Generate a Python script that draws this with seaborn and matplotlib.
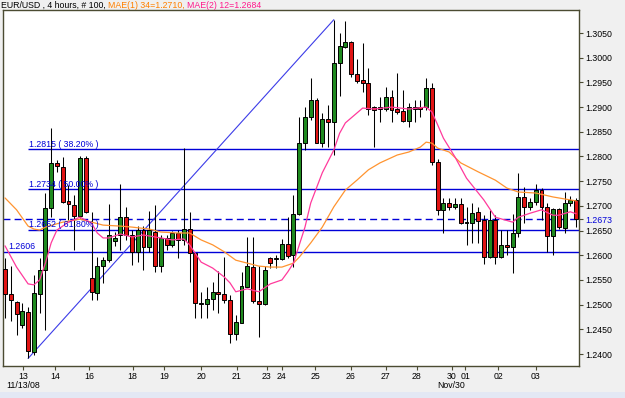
import numpy as np
import pandas as pd
import matplotlib
matplotlib.use("Agg")
import matplotlib.pyplot as plt
import matplotlib.transforms as mtransforms
from matplotlib.patches import Rectangle
import seaborn as sns

# ---------------- data (EUR/USD, 4 hours, 100 candles) ----------------
opens = [1.2572, 1.2521, 1.2505, 1.2459, 1.2485, 1.2404, 1.2521, 1.2570, 1.2696, 1.2787,
         1.2779, 1.2710, 1.2702, 1.2679, 1.2797, 1.2554, 1.2524, 1.2578, 1.2590, 1.2629,
         1.2641, 1.2677, 1.2641, 1.2607, 1.2651, 1.2617, 1.2647, 1.2578, 1.2635, 1.2621,
         1.2645, 1.2631, 1.2653, 1.2604, 1.2501, 1.2501, 1.2511, 1.2526, 1.2521, 1.2509,
         1.2440, 1.2463, 1.2536, 1.2576, 1.2507, 1.2501, 1.2594, 1.2592, 1.2592, 1.2623,
         1.2600, 1.2683, 1.2827, 1.2880, 1.2914, 1.2827, 1.2876, 1.2870, 1.2989, 1.3022,
         1.3032, 1.2967, 1.2955, 1.2949, 1.2900, 1.2900, 1.2896, 1.2920, 1.2896, 1.2892,
         1.2872, 1.2900, 1.2900, 1.2900, 1.2939, 1.2789, 1.2692, 1.2706, 1.2698, 1.2704,
         1.2665, 1.2665, 1.2688, 1.2671, 1.2596, 1.2671, 1.2596, 1.2621, 1.2617, 1.2645,
         1.2718, 1.2698, 1.2708, 1.2732, 1.2698, 1.2639, 1.2694, 1.2655, 1.2706, 1.2712]
highs = [1.2594, 1.2578, 1.2507, 1.2503, 1.2495, 1.2560, 1.2594, 1.2726, 1.2858, 1.2793,
         1.2799, 1.2742, 1.2722, 1.2801, 1.2801, 1.2688, 1.2596, 1.2596, 1.2704, 1.2647,
         1.2744, 1.2698, 1.2651, 1.2659, 1.2659, 1.2690, 1.2702, 1.2641, 1.2641, 1.2649,
         1.2651, 1.2817, 1.2688, 1.2604, 1.2526, 1.2536, 1.2546, 1.2568, 1.2596, 1.2519,
         1.2479, 1.2566, 1.2637, 1.2637, 1.2578, 1.2578, 1.2596, 1.2600, 1.2633, 1.2677,
         1.2722, 1.2880, 1.2900, 1.2959, 1.2918, 1.2888, 1.2904, 1.3077, 1.3050, 1.3074,
         1.3034, 1.2997, 1.3030, 1.2979, 1.2902, 1.2920, 1.2941, 1.2935, 1.2969, 1.2935,
         1.2908, 1.2914, 1.2914, 1.2959, 1.2949, 1.2795, 1.2716, 1.2716, 1.2716, 1.2716,
         1.2698, 1.2706, 1.2698, 1.2681, 1.2692, 1.2681, 1.2651, 1.2651, 1.2683, 1.2767,
         1.2738, 1.2716, 1.2744, 1.2736, 1.2706, 1.2696, 1.2696, 1.2728, 1.2720, 1.2716]
lows = [1.2473, 1.2467, 1.2438, 1.2453, 1.2391, 1.2398, 1.2483, 1.2449, 1.2677, 1.2769,
        1.2706, 1.2671, 1.2611, 1.2675, 1.2685, 1.2509, 1.2509, 1.2544, 1.2586, 1.2619,
        1.2611, 1.2631, 1.2580, 1.2586, 1.2570, 1.2607, 1.2566, 1.2566, 1.2611, 1.2617,
        1.2594, 1.2621, 1.2546, 1.2473, 1.2473, 1.2473, 1.2489, 1.2483, 1.2503, 1.2422,
        1.2428, 1.2463, 1.2536, 1.2503, 1.2434, 1.2499, 1.2574, 1.2574, 1.2590, 1.2594,
        1.2576, 1.2681, 1.2813, 1.2874, 1.2827, 1.2819, 1.2819, 1.2803, 1.2922, 1.3020,
        1.2961, 1.2949, 1.2930, 1.2884, 1.2819, 1.2870, 1.2892, 1.2870, 1.2886, 1.2870,
        1.2860, 1.2870, 1.2880, 1.2894, 1.2783, 1.2681, 1.2645, 1.2692, 1.2694, 1.2663,
        1.2621, 1.2625, 1.2625, 1.2582, 1.2594, 1.2582, 1.2594, 1.2600, 1.2564, 1.2637,
        1.2665, 1.2692, 1.2702, 1.2671, 1.2607, 1.2600, 1.2653, 1.2645, 1.2700, 1.2657]
closes = [1.2521, 1.2509, 1.2480, 1.2487, 1.2406, 1.2524, 1.2570, 1.2696, 1.2787, 1.2781,
          1.2708, 1.2704, 1.2679, 1.2797, 1.2688, 1.2526, 1.2578, 1.2590, 1.2641, 1.2635,
          1.2677, 1.2641, 1.2607, 1.2651, 1.2617, 1.2651, 1.2578, 1.2635, 1.2621, 1.2645,
          1.2631, 1.2653, 1.2604, 1.2503, 1.2503, 1.2511, 1.2526, 1.2521, 1.2509, 1.2440,
          1.2465, 1.2538, 1.2578, 1.2507, 1.2501, 1.2570, 1.2584, 1.2594, 1.2623, 1.2598,
          1.2683, 1.2827, 1.2880, 1.2914, 1.2827, 1.2876, 1.2870, 1.2989, 1.3024, 1.3032,
          1.2967, 1.2953, 1.2949, 1.2896, 1.2894, 1.2896, 1.2920, 1.2894, 1.2890, 1.2872,
          1.2900, 1.2896, 1.2896, 1.2939, 1.2789, 1.2692, 1.2706, 1.2698, 1.2704, 1.2665,
          1.2667, 1.2685, 1.2669, 1.2596, 1.2671, 1.2596, 1.2621, 1.2617, 1.2645, 1.2718,
          1.2698, 1.2708, 1.2732, 1.2698, 1.2639, 1.2694, 1.2657, 1.2706, 1.2712, 1.2673]

# moving averages (candle index, value)
ma12_idx = [0, 2, 4, 5, 6, 7, 8, 9, 11, 13, 15, 16, 17, 18, 20, 22, 24, 26, 29, 31,
            32, 34, 36, 38, 39, 40, 42, 44, 46, 48, 49, 50, 52, 53, 55, 57, 58, 59, 61, 62,
            64, 67, 70, 73, 74, 75, 76, 78, 80, 83, 85, 88, 89, 91, 93, 95, 96, 98, 99]
ma12_val = [1.2619, 1.2576, 1.2542, 1.2540, 1.2550, 1.2584, 1.2625, 1.2651, 1.2667, 1.2677,
            1.2665, 1.2645, 1.2635, 1.2635, 1.2643, 1.2637, 1.2641, 1.2637, 1.2631, 1.2633,
            1.2621, 1.2586, 1.2574, 1.2556, 1.2544, 1.2526, 1.2532, 1.2526, 1.2542, 1.2550,
            1.2566, 1.2584, 1.2657, 1.2706, 1.2767, 1.2813, 1.2847, 1.2868, 1.2888, 1.2898,
            1.2896, 1.2900, 1.2896, 1.2900, 1.2890, 1.2864, 1.2837, 1.2799, 1.2756, 1.2712,
            1.2677, 1.2667, 1.2677, 1.2685, 1.2692, 1.2681, 1.2681, 1.2688, 1.2684]
ma34_idx = [0, 2, 4, 5, 6, 7, 10, 13, 15, 17, 20, 22, 25, 27, 30, 32, 34, 36, 38, 40,
            42, 44, 46, 48, 50, 51, 53, 55, 57, 59, 61, 63, 65, 68, 70, 72, 73, 74, 75, 77,
            79, 82, 85, 87, 89, 92, 95, 97, 99]
ma34_val = [1.2716, 1.2692, 1.2659, 1.2653, 1.2651, 1.2657, 1.2667, 1.2673, 1.2667, 1.2661,
            1.2659, 1.2657, 1.2653, 1.2647, 1.2645, 1.2645, 1.2631, 1.2621, 1.2607, 1.2590,
            1.2584, 1.2578, 1.2576, 1.2576, 1.2584, 1.2596, 1.2625, 1.2657, 1.2698, 1.2732,
            1.2752, 1.2773, 1.2787, 1.2803, 1.2809, 1.2819, 1.2829, 1.2827, 1.2817, 1.2809,
            1.2787, 1.2769, 1.2752, 1.2736, 1.2728, 1.2726, 1.2718, 1.2714, 1.2710]

fib_levels = [1.2815, 1.2734, 1.2652]
fib_labels = ["1.2815 ( 38.20% )", "1.2734 ( 50.00% )", "1.2652 ( 61.80% )"]
support_level = 1.2606
support_label = "1.2606"
last_price = 1.2673
swing_idx = [4, 57]
swing_price = [1.2391, 1.3077]

xtick_labels = ["13", "14", "16", "18", "19", "20", "21", "23", "24", "25", "26", "27",
                "28", "30", "01", "02", "03"]
xtick_pos = [3.2, 8.7, 14.6, 22.1, 27.6, 34.0, 40.2, 45.4, 48.0, 53.8, 59.9, 66.0,
             71.4, 77.4, 79.8, 85.5, 92.0]
date_labels = ["11/13/08", "Nov/30"]
date_pos = [3.2, 77.4]
ytick_vals = [1.2400, 1.2450, 1.2500, 1.2550, 1.2600, 1.2650, 1.2700, 1.2750, 1.2800,
              1.2850, 1.2900, 1.2950, 1.3000, 1.3050]

title_parts = ["EUR/USD , 4 hours, # 100, ", "MAE(1) 34=1.2710, ", "MAE(2) 12=1.2684"]

# ---------------- style ----------------
sns.set_style("white")
plt.rcParams["font.family"] = ["Liberation Sans", "DejaVu Sans"]
FS = 6.3
GREEN = "#1f8a1f"
RED = "#e01414"
BLUE = "#0000d8"
ORANGE = "#ff9430"
PINK = "#ff3a9c"
SPINE = "#4b4b32"

W, H = 625, 398
fig = plt.figure(figsize=(W / 100, H / 100), dpi=100, facecolor="#f0f0f0")
fig.patches.append(Rectangle((0, 0), 1, 6 / H, transform=fig.transFigure,
                             facecolor="#e3e8f4", edgecolor="none", zorder=0))
ax = fig.add_axes([3 / W, 1 - 366 / H, (579 - 3) / W, (366 - 10) / H])
ax.set_facecolor("white")

df = pd.DataFrame({"idx": np.arange(len(opens)), "open": opens, "high": highs,
                   "low": lows, "close": closes})
df["up"] = df["close"] >= df["open"]

XMIN, XMAX = -0.35, 99.5
ax.set_xlim(XMIN, XMAX)
ax.set_ylim(1.23757, 1.30966)

# horizontal levels and trend line
ax.hlines(support_level, XMIN, XMAX, color=BLUE, lw=1.0, zorder=2)
ax.hlines(fib_levels, swing_idx[0], XMAX, color=BLUE, lw=1.0, zorder=2)
ax.axhline(last_price, color=BLUE, lw=1.0, ls=(0, (5, 3)), zorder=2)
ax.plot(swing_idx, swing_price, color="#3c3ce8", lw=0.8, zorder=2)

# candles
ax.vlines(df["idx"], df["low"], df["high"], color="black", lw=0.75, zorder=3)
body_bottom = np.minimum(df["open"], df["close"])
body_h = np.maximum((df["close"] - df["open"]).abs(), 0.00012)
ax.bar(df["idx"], body_h, bottom=body_bottom, width=0.68,
       color=[GREEN if u else RED for u in df["up"]],
       edgecolor="black", linewidth=0.7, zorder=4)

# moving averages
sns.lineplot(x=ma34_idx, y=ma34_val, ax=ax, color=ORANGE, lw=0.9, zorder=5)
sns.lineplot(x=ma12_idx, y=ma12_val, ax=ax, color=PINK, lw=0.9, zorder=5)

# level labels
for lvl, lab in zip(fib_levels, fib_labels):
    ax.annotate(lab, (swing_idx[0], lvl), xytext=(0.5, 0.3), textcoords="offset points",
                ha="left", va="bottom", color=BLUE, fontsize=FS, zorder=6)
ax.annotate(support_label, (0.5, support_level), xytext=(0, 1.0), textcoords="offset points",
            ha="left", va="bottom", color=BLUE, fontsize=FS, zorder=6)

# axes styling
for s in ax.spines.values():
    s.set_visible(True)
    s.set_color(SPINE)
    s.set_linewidth(1.0)

yt = ytick_vals + [last_price]
ax.set_yticks(yt)
ax.set_yticklabels([f"{v:.4f}" for v in yt])
ax.yaxis.tick_right()
ax.tick_params(axis="y", which="both", right=True, left=False, labelright=True,
               labelleft=False, length=3, width=0.8, color=SPINE, pad=1.2,
               labelsize=FS, labelcolor="black")
ax.get_yticklabels()[-1].set_color(BLUE)

ax.set_xticks(xtick_pos)
ax.set_xticklabels(xtick_labels)
ax.tick_params(axis="x", bottom=True, length=3, width=0.8, color=SPINE, pad=1.5,
               labelsize=FS, labelcolor="black")
ax.set_xlabel("")
ax.set_ylabel("")

trans = mtransforms.blended_transform_factory(ax.transData, ax.transAxes)
for p, lab in zip(date_pos, date_labels):
    ax.text(p, -20 / 356, lab, transform=trans, ha="center", va="center",
            fontsize=FS, color="black")

# multi-coloured title
fig.canvas.draw()
renderer = fig.canvas.get_renderer()
x0 = 1 / W
for part, col in zip(title_parts, ["black", "#ff8000", "#ff1a8c"]):
    t = fig.text(x0, 1 - 5 / H, part, ha="left", va="center", fontsize=FS, color=col)
    bb = t.get_window_extent(renderer)
    x0 += bb.width / W

fig.savefig("out.png", dpi=100, facecolor=fig.get_facecolor())
